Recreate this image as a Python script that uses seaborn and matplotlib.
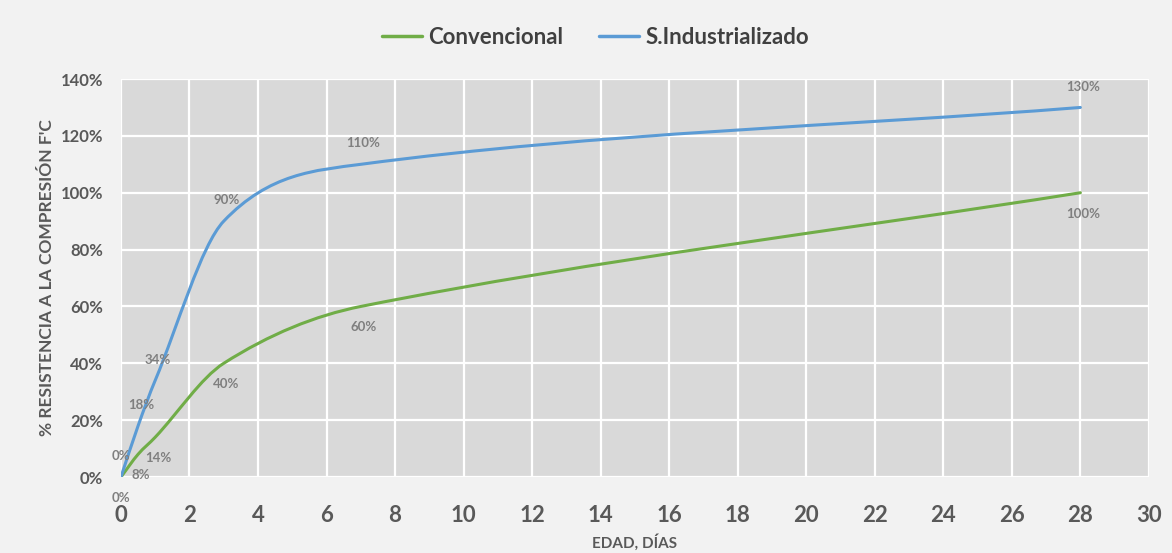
import numpy as np
import pandas as pd
import matplotlib
matplotlib.use("Agg")
import matplotlib.pyplot as plt
from matplotlib.path import Path
from matplotlib.patches import PathPatch
from matplotlib.ticker import PercentFormatter
import seaborn as sns

# ---- data ----
dias = [0, 0.5, 1, 3, 7, 28]
convencional = [0.00, 0.08, 0.14, 0.40, 0.60, 1.00]
industrializado = [0.00, 0.18, 0.34, 0.90, 1.10, 1.30]
series_names = ["Convencional", "S.Industrializado"]
colors = ["#70ad47", "#5b9bd5"]
x_ticks = list(range(0, 31, 2))
y_ticks = [0, 0.2, 0.4, 0.6, 0.8, 1.0, 1.2, 1.4]

df = pd.DataFrame({
    "dias": dias * 2,
    "valor": convencional + industrializado,
    "serie": [series_names[0]] * len(dias) + [series_names[1]] * len(dias),
})

sns.set_style("darkgrid")
plt.rcParams["font.family"] = ["Lato", "DejaVu Sans"]

fig = plt.figure(figsize=(11.72, 5.53), dpi=100, facecolor="#f2f2f2")
ax = fig.add_axes([0.1032, 0.1374, 0.8771, 0.7197])
ax.set_facecolor("#d9d9d9")

sns.lineplot(data=df, x="dias", y="valor", hue="serie", palette=colors,
             linewidth=2.0, ax=ax, legend=False, sort=False)


def smooth_path(xs, ys):
    xs = np.asarray(xs, float)
    ys = np.asarray(ys, float)
    n = len(xs)
    m = np.zeros(n)
    for i in range(n):
        if i == 0:
            m[i] = (ys[1] - ys[0]) / (xs[1] - xs[0])
        elif i == n - 1:
            m[i] = (ys[-1] - ys[-2]) / (xs[-1] - xs[-2])
        else:
            m[i] = (ys[i + 1] - ys[i - 1]) / (xs[i + 1] - xs[i - 1])
    verts = [(xs[0], ys[0])]
    codes = [Path.MOVETO]
    for i in range(n - 1):
        h = xs[i + 1] - xs[i]
        verts += [(xs[i] + h / 3, ys[i] + m[i] * h / 3),
                  (xs[i + 1] - h / 3, ys[i + 1] - m[i + 1] * h / 3),
                  (xs[i + 1], ys[i + 1])]
        codes += [Path.CURVE4] * 3
    return Path(verts, codes)


handles = []
for line, col, name in zip(ax.get_lines(), colors, series_names):
    xd, yd = line.get_xdata(), line.get_ydata()
    line.set_visible(False)
    patch = PathPatch(smooth_path(xd, yd), facecolor="none", edgecolor=col,
                      linewidth=2.2, capstyle="round", zorder=3)
    ax.add_patch(patch)
    handles.append(plt.Line2D([], [], color=col, linewidth=2.5, label=name))

# data labels
lab_kw = dict(ha="center", va="center", fontsize=9.5, color="#7f7f7f",
              fontweight="bold", textcoords="offset points")
for xv, yv in zip(dias, convencional):
    ax.annotate(f"{yv*100:.0f}%", (xv, yv), xytext=(2 if xv else 0, -15), **lab_kw)
for xv, yv in zip(dias, industrializado):
    ax.annotate(f"{yv*100:.0f}%", (xv, yv), xytext=(2 if xv else 0, 15), **lab_kw)

ax.set_xlim(0, 30)
ax.set_ylim(0, 1.4)
ax.set_xticks(x_ticks)
ax.set_yticks(y_ticks)
ax.yaxis.set_major_formatter(PercentFormatter(1.0, decimals=0))
ax.grid(True, color="white", linewidth=1.6)
for s in ax.spines.values():
    s.set_visible(False)
ax.tick_params(axis="x", labelsize=16, labelcolor="#595959", pad=20, length=0)
ax.tick_params(axis="y", labelsize=12, labelcolor="#595959", pad=13, length=0)
for t in ax.get_xticklabels():
    t.set_fontweight("bold")
for t in ax.get_yticklabels():
    t.set_fontweight("bold")

ax.set_xlabel("EDAD, DÍAS", fontsize=11, fontweight="bold", color="#595959", labelpad=6)
ax.set_ylabel("% RESISTENCIA A LA COMPRESIÓN F'C", fontsize=12.5, fontweight="bold",
              color="#595959", labelpad=4)

fig.legend(handles=handles, loc="center", bbox_to_anchor=(0.508, 0.932), ncol=2,
           frameon=False, prop={"size": 16, "weight": "bold"}, labelcolor="#404040",
           handlelength=1.8, columnspacing=1.6, handletextpad=0.3)

fig.savefig("out.png", dpi=100, facecolor=fig.get_facecolor())
